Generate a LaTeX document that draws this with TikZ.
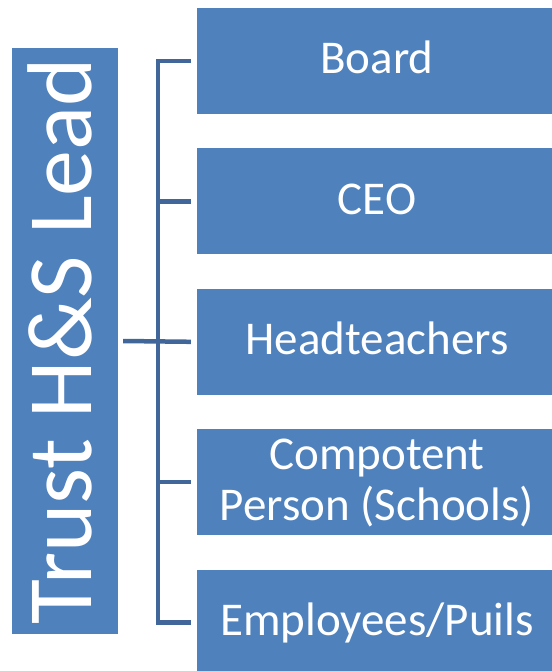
\documentclass[tikz,border=0pt]{standalone}
\usepackage{fontspec}
\setmainfont{Carlito}
\usetikzlibrary{positioning}
\definecolor{boxblue}{HTML}{4F81BD}
\definecolor{lineblue}{HTML}{41679A}

\begin{document}
\begin{tikzpicture}[x=1pt, y=-1pt,
		box/.style={rectangle, fill=boxblue, text=white, minimum width=360pt, minimum height=106pt, inner sep=0pt, align=center, text height=33pt, text depth=7pt, font=\fontsize{47}{51}\selectfont},
		lead/.style={rectangle, fill=boxblue, text=white, rotate=90, minimum width=585pt, minimum height=106pt, inner sep=0pt, text height=64pt, text depth=12pt, font=\fontsize{92}{100}\selectfont},
		conn/.style={draw=lineblue, line width=4.5pt},
		node distance=34pt
	]
	\useasboundingbox (0,0) rectangle (551,671);
	% Nodes
	\node[lead] (trust) at (65,341) {Trust H\&S Lead};
	\node[box] (board) at (377,61) {Board};
	\node[box, below=of board] (ceo) {CEO};
	\node[box, below=of ceo] (head) {Headteachers};
	\node[box, below=of head, text height=84pt] (comp) {Compotent\\Person (Schools)};
	\node[box, below=of comp] (emp) {Employees/Puils};
	% Lines
	\coordinate (hub) at (158,341);
	\draw[conn] ([xshift=5pt]trust.south |- hub) -- ([xshift=-6pt]head.west);
	\foreach \b in {board,ceo,comp,emp}
		\draw[conn] ([xshift=-6pt]\b.west) -| (hub);
\end{tikzpicture}
\end{document}
